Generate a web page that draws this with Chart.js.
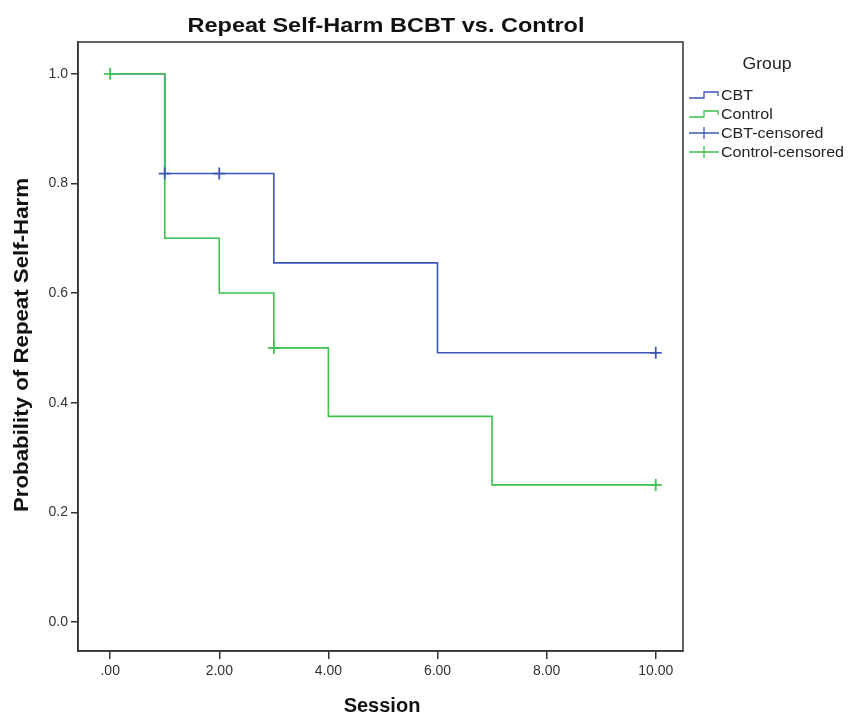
<!DOCTYPE html>
<html>
<head>
<meta charset="utf-8">
<script src="https://cdn.jsdelivr.net/npm/chart.js@4"></script>
<style>
  body { margin: 0; background: #fff; }
</style>
</head>
<body>
<canvas id="kmChart" width="848" height="714"></canvas>
<script>
  // Kaplan-Meier estimates
  const cbtTime = [0, 1, 3, 6, 10];
  const cbtSurv = [1.0, 0.818, 0.655, 0.491, 0.491];
  const ctrlTime = [0, 1, 2, 3, 4, 7, 10];
  const ctrlSurv = [1.0, 0.7, 0.6, 0.5, 0.375, 0.25, 0.25];
  const cbtCensTime = [1, 2, 10];
  const cbtCensSurv = [0.818, 0.818, 0.491];
  const ctrlCensTime = [0, 3, 10];
  const ctrlCensSurv = [1.0, 0.5, 0.25];
  const xTicks = [0, 2, 4, 6, 8, 10];
  const yTicks = [0, 0.2, 0.4, 0.6, 0.8, 1.0];
  const groups = ['CBT', 'Control', 'CBT-censored', 'Control-censored'];

  const blue = '#3d55b9';
  const green = '#3cc04e';
  const axisColor = '#333';
  const fontName = '"Liberation Sans", Arial, sans-serif';

  const pts = (xs, ys) => xs.map((x, i) => ({ x: x, y: ys[i] }));

  // text stretched sideways, the source output looks horizontally wide
  function wideText(ctx, text, x, y, sx) {
    ctx.save();
    ctx.translate(x, y);
    ctx.scale(sx, 1);
    ctx.fillText(text, 0, 0);
    ctx.restore();
  }
  const fitScale = (ctx, text, width) => width / ctx.measureText(text).width;

  // frame around the plot area
  const frame = {
    id: 'frame',
    beforeDatasetsDraw(chart) {
      const a = chart.chartArea;
      const ctx = chart.ctx;
      ctx.save();
      ctx.strokeStyle = axisColor;
      ctx.lineWidth = 1.5;
      ctx.strokeRect(a.left, a.top, a.right - a.left, a.bottom - a.top);
      ctx.restore();
    }
  };

  // titles and SPSS style legend
  const labels = {
    id: 'labels',
    afterDraw(chart) {
      const ctx = chart.ctx;
      const a = chart.chartArea;
      ctx.save();
      ctx.fillStyle = '#111';
      ctx.textAlign = 'center';
      ctx.textBaseline = 'alphabetic';

      const title = 'Repeat Self-Harm BCBT vs. Control';
      ctx.font = 'bold 21px ' + fontName;
      wideText(ctx, title, 386, 32, fitScale(ctx, title, 397));

      ctx.font = 'bold 20px ' + fontName;
      ctx.fillText('Session', 382, 712);

      const yTitle = 'Probability of Repeat Self-Harm';
      ctx.save();
      ctx.translate(28, 345);
      ctx.rotate(-Math.PI / 2);
      wideText(ctx, yTitle, 0, 0, fitScale(ctx, yTitle, 334));
      ctx.restore();

      ctx.fillStyle = '#222';
      ctx.font = '17px ' + fontName;
      wideText(ctx, 'Group', 767, 69, fitScale(ctx, 'Group', 49));

      ctx.font = '14px ' + fontName;
      ctx.textAlign = 'left';
      ctx.textBaseline = 'middle';
      const sx = fitScale(ctx, 'Control-censored', 123);
      const x0 = a.right + 6;
      const ys = [95, 114, 133, 152];
      groups.forEach((g, i) => {
        const y = ys[i];
        ctx.strokeStyle = i % 2 === 0 ? blue : green;
        ctx.lineWidth = 1.3;
        ctx.beginPath();
        if (i < 2) {
          ctx.moveTo(x0, y + 3);
          ctx.lineTo(x0 + 15, y + 3);
          ctx.lineTo(x0 + 15, y - 3);
          ctx.lineTo(x0 + 29, y - 3);
          ctx.lineTo(x0 + 29, y + 1);
        } else {
          ctx.moveTo(x0, y);
          ctx.lineTo(x0 + 30, y);
          ctx.moveTo(x0 + 15, y - 6);
          ctx.lineTo(x0 + 15, y + 6);
        }
        ctx.stroke();
        ctx.fillStyle = '#222';
        wideText(ctx, g, x0 + 32, y + 1, sx);
      });
      ctx.restore();
    }
  };

  new Chart(document.getElementById('kmChart'), {
    type: 'line',
    data: {
      datasets: [{
        label: 'Control',
        data: pts(ctrlTime, ctrlSurv),
        borderColor: green,
        borderWidth: 1.6,
        stepped: 'before',
        pointRadius: 0,
        fill: false,
        order: 1
      }, {
        label: 'CBT',
        data: pts(cbtTime, cbtSurv),
        borderColor: blue,
        borderWidth: 1.6,
        stepped: 'before',
        pointRadius: 0,
        fill: false,
        order: 2
      }, {
        label: 'CBT-censored',
        type: 'scatter',
        data: pts(cbtCensTime, cbtCensSurv),
        borderColor: blue,
        pointStyle: 'cross',
        pointRadius: 6,
        pointBorderWidth: 1.8,
        showLine: false,
        order: 0
      }, {
        label: 'Control-censored',
        type: 'scatter',
        data: pts(ctrlCensTime, ctrlCensSurv),
        borderColor: green,
        pointStyle: 'cross',
        pointRadius: 6,
        pointBorderWidth: 1.8,
        showLine: false,
        order: 0
      }]
    },
    options: {
      responsive: false,
      animation: false,
      layout: { padding: { left: 0, right: 165, top: 42, bottom: 0 } },
      plugins: {
        legend: { display: false },
        tooltip: { enabled: false },
        title: { display: false }
      },
      scales: {
        x: {
          type: 'linear',
          min: -0.59,
          max: 10.5,
          afterBuildTicks: s => { s.ticks = xTicks.map(v => ({ value: v })); },
          afterFit: s => { s.height = 63; },
          grid: { drawOnChartArea: false, drawTicks: true, tickLength: 8, color: axisColor, lineWidth: 1.5 },
          border: { display: true, color: axisColor, width: 1.5 },
          ticks: {
            padding: 4,
            color: '#333',
            font: { family: fontName, size: 14 },
            maxRotation: 0,
            callback: v => v === 0 ? '.00' : v.toFixed(2)
          }
        },
        y: {
          type: 'linear',
          min: -0.053,
          max: 1.058,
          afterBuildTicks: s => { s.ticks = yTicks.map(v => ({ value: v })); },
          afterFit: s => { s.width = 78; },
          grid: { drawOnChartArea: false, drawTicks: true, tickLength: 7, color: axisColor, lineWidth: 1.5 },
          border: { display: true, color: axisColor, width: 1.5 },
          ticks: {
            padding: 3,
            color: '#333',
            font: { family: fontName, size: 14 },
            callback: v => v.toFixed(1)
          }
        }
      }
    },
    plugins: [frame, labels]
  });
</script>
</body>
</html>
